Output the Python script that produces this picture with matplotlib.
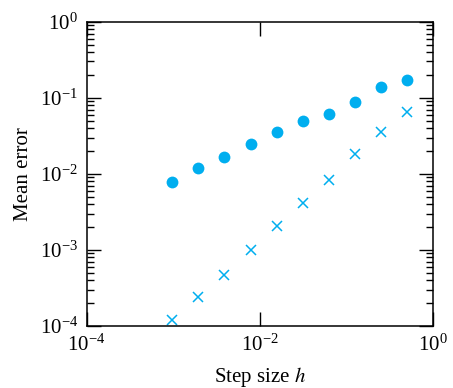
import numpy as np
import matplotlib.pyplot as plt
from matplotlib.ticker import LogLocator, NullLocator

# step sizes h = 2^-10 ... 2^-1
step_size = [2**-10, 2**-9, 2**-8, 2**-7, 2**-6, 2**-5, 2**-4, 2**-3, 2**-2, 2**-1]
# mean error, first method (circles)
err_circle = [7.85e-3, 0.0119, 0.0164, 0.0246, 0.0357, 0.0494, 0.0610, 0.0878, 0.138, 0.171]
# mean error, second method (crosses)
err_cross = [1.21e-4, 2.41e-4, 4.65e-4, 9.82e-4, 2.05e-3, 4.15e-3, 8.34e-3, 0.018, 0.0357, 0.0642]

plt.rcParams['font.family'] = ['Liberation Serif', 'DejaVu Serif']
plt.rcParams['mathtext.fontset'] = 'stix'

col = '#00AEEF'

fig = plt.figure(figsize=(4.53, 3.88), dpi=100)
ax = fig.add_axes([0.191, 0.160, 0.765, 0.784])

ax.plot(step_size, err_circle, 'o', color=col, markersize=8.5, markeredgewidth=0)
ax.plot(step_size, err_cross, 'x', color=col, markersize=6.5, markeredgewidth=1.1)

ax.set_xscale('log')
ax.set_yscale('log')
ax.set_xlim(1e-4, 1)
ax.set_ylim(1e-4, 1)

ax.set_xticks([1e-4, 1e-2, 1])
ax.xaxis.set_minor_locator(NullLocator())
ax.yaxis.set_major_locator(LogLocator(base=10, numticks=10))
ax.yaxis.set_minor_locator(LogLocator(base=10, subs=np.arange(2, 10), numticks=20))

ax.tick_params(which='both', direction='in', top=True, right=True, labelsize=15, width=1)
ax.tick_params(which='major', length=10, pad=6)
ax.tick_params(which='minor', length=5)
for s in ax.spines.values():
    s.set_linewidth(1.1)

ax.set_xlabel('Step size $h$', fontsize=15, labelpad=7)
ax.set_ylabel('Mean error', fontsize=15, labelpad=5)

fig.savefig('out.png', dpi=100)
